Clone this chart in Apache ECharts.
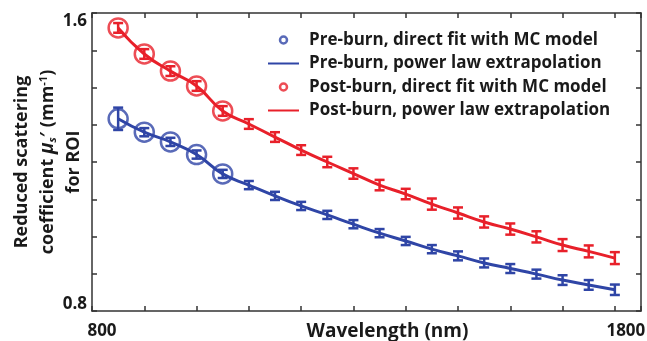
<!DOCTYPE html>
<html>
<head>
<meta charset="utf-8">
<script src="https://cdn.jsdelivr.net/npm/echarts@6/dist/echarts.min.js"></script>
<style>
  html, body { margin: 0; padding: 0; background: #fff; }
  #chart { width: 647px; height: 341px; }
</style>
</head>
<body>
<div id="chart"></div>
<script>
const wavelengths = [850, 900, 950, 1000, 1050, 1100, 1150, 1200, 1250, 1300,
                     1350, 1400, 1450, 1500, 1550, 1600, 1650, 1700, 1750, 1800];
const preBurn  = [1.316, 1.280, 1.254, 1.220, 1.168, 1.138, 1.109, 1.082, 1.058, 1.033,
                  1.009, 0.988, 0.966, 0.948, 0.929, 0.914, 0.899, 0.883, 0.870, 0.857];
const preErr   = [0.030, 0.011, 0.011, 0.011, 0.011, 0.011, 0.011, 0.011, 0.011, 0.011,
                  0.011, 0.011, 0.011, 0.012, 0.012, 0.012, 0.012, 0.013, 0.013, 0.014];
const postBurn = [1.560, 1.490, 1.444, 1.404, 1.337, 1.302, 1.267, 1.232, 1.200, 1.169,
                  1.138, 1.114, 1.087, 1.063, 1.039, 1.020, 0.999, 0.977, 0.960, 0.942];
const postErr  = [0.013, 0.013, 0.013, 0.013, 0.013, 0.013, 0.013, 0.013, 0.014, 0.014,
                  0.014, 0.014, 0.015, 0.015, 0.015, 0.015, 0.015, 0.016, 0.016, 0.016];
// direct MC fits exist only for the first few wavelengths
const mcFitCount = 5;
const xTickLabels = [800, 1800];
const yTickLabels = [0.8, 1.6];

const names = [
  'Pre-burn, direct fit with MC model',
  'Pre-burn, power law extrapolation',
  'Post-burn, direct fit with MC model',
  'Post-burn, power law extrapolation',
];

const BLUE = '#2f45a6';
const RED = '#e8202a';
const AXIS = '#333';
const TEXT = '#1a1a1a';
const FONT = 'Open Sans';

const chart = echarts.init(document.getElementById('chart'));

function errorBars(color) {
  return function (params, api) {
    const x = api.value(0);
    const y = api.value(1);
    const e = api.value(2);
    const top = api.coord([x, y + e]);
    const bot = api.coord([x, y - e]);
    const half = 5;
    const style = { stroke: color, lineWidth: 2.5, fill: null };
    return {
      type: 'group',
      children: [
        { type: 'line', shape: { x1: top[0], y1: top[1], x2: bot[0], y2: bot[1] }, style },
        { type: 'line', shape: { x1: top[0] - half, y1: top[1], x2: top[0] + half, y2: top[1] }, style },
        { type: 'line', shape: { x1: bot[0] - half, y1: bot[1], x2: bot[0] + half, y2: bot[1] }, style },
      ],
    };
  };
}

const pairs = (vals) => wavelengths.map((w, i) => [w, vals[i]]);
const triples = (vals, errs) => wavelengths.map((w, i) => [w, vals[i], errs[i]]);

const frameAxis = {
  axisLine: { show: true, lineStyle: { color: AXIS, width: 1.5 } },
  axisTick: { show: true, inside: true, length: 5, lineStyle: { color: AXIS, width: 1.5 } },
  splitLine: { show: false },
};

const tickFont = { fontFamily: FONT, fontSize: 17, fontWeight: 'bold', color: TEXT };

const option = {
  backgroundColor: '#fff',
  animation: false,
  grid: { left: 92, right: 6, top: 13, bottom: 30, containLabel: false, outerBoundsMode: 'none' },
  legend: {
    orient: 'vertical',
    left: 262,
    top: 26,
    itemWidth: 31,
    itemHeight: 7,
    itemGap: 5.5,
    textStyle: { fontFamily: FONT, fontSize: 17, fontWeight: 'bold', color: TEXT, lineHeight: 18, padding: [0, 0, 0, 5] },
    data: [
      { name: names[0], icon: 'circle', itemStyle: { color: 'rgba(0,0,0,0)', borderColor: BLUE, borderWidth: 2.5 } },
      { name: names[1], itemStyle: { opacity: 0 } },
      { name: names[2], icon: 'circle', itemStyle: { color: 'rgba(0,0,0,0)', borderColor: RED, borderWidth: 2.5 } },
      { name: names[3], itemStyle: { opacity: 0 } },
    ],
  },
  xAxis: [
    {
      type: 'value', min: 800, max: 1850, interval: 100,
      ...frameAxis,
      name: 'Wavelength (nm)',
      nameLocation: 'middle',
      nameGap: 11,
      nameMoveOverlap: false,
      nameTextStyle: { fontFamily: FONT, fontSize: 19, fontWeight: 'bold', color: TEXT, verticalAlign: 'top', padding: [0, 0, 0, 42] },
      axisLabel: {
        margin: 12,
        ...tickFont,
        formatter: (v) => {
          if (v === xTickLabels[0]) return '{first|' + v + '}';
          if (v === xTickLabels[1]) return '{last|' + v + '}';
          return '';
        },
        rich: {
          first: { ...tickFont, padding: [0, 0, 0, 20] },
          last: { ...tickFont, padding: [0, 0, 0, 22] },
        },
      },
    },
    {
      type: 'value', min: 800, max: 1850, interval: 100, position: 'top',
      ...frameAxis,
      axisLabel: { show: false },
    },
  ],
  yAxis: [
    {
      type: 'value', min: 0.8, max: 1.6, interval: 0.1,
      ...frameAxis,
      name: '{t|Reduced scattering}\n{t|coefficient }{mu|μ}{sub|s}{t|′ (mm}{sup|-1}{t|)}\n{t|for ROI}',
      nameLocation: 'middle',
      nameGap: 5,
      nameRotate: 90,
      nameMoveOverlap: false,
      nameTextStyle: {
        fontFamily: FONT, fontSize: 18, fontWeight: 'bold', color: TEXT, lineHeight: 26,
        rich: {
          t: { fontFamily: FONT, fontSize: 18, fontWeight: 'bold', color: TEXT, lineHeight: 26 },
          mu: { fontFamily: FONT, fontSize: 19, fontStyle: 'italic', color: TEXT, lineHeight: 26 },
          sub: { fontFamily: FONT, fontSize: 11, fontStyle: 'italic', color: TEXT, lineHeight: 26, padding: [10, 0, 0, 0] },
          sup: { fontFamily: FONT, fontSize: 11, color: TEXT, lineHeight: 26, padding: [0, 0, 8, 0] },
        },
      },
      axisLabel: {
        margin: 5,
        formatter: (v) => {
          const r = Math.round(v * 10) / 10;
          if (r === yTickLabels[1]) return '{top|' + r.toFixed(1) + '}';
          if (r === yTickLabels[0]) return '{bot|' + r.toFixed(1) + '}';
          return '';
        },
        rich: {
          top: { ...tickFont, padding: [16, 0, 0, 0] },
          bot: { ...tickFont, padding: [0, 0, 14, 0] },
        },
      },
    },
    {
      type: 'value', min: 0.8, max: 1.6, interval: 0.1, position: 'right',
      ...frameAxis,
      axisLabel: { show: false },
    },
  ],
  series: [
    {
      name: names[1], type: 'line', data: pairs(preBurn), smooth: true,
      symbol: 'none', lineStyle: { color: BLUE, width: 3 }, itemStyle: { color: BLUE }, z: 2,
    },
    {
      name: names[3], type: 'line', data: pairs(postBurn), smooth: true,
      symbol: 'none', lineStyle: { color: RED, width: 3 }, itemStyle: { color: RED }, z: 2,
    },
    {
      name: 'preErr', type: 'custom', renderItem: errorBars(BLUE),
      encode: { x: 0, y: 1 }, data: triples(preBurn, preErr), z: 3,
    },
    {
      name: 'postErr', type: 'custom', renderItem: errorBars(RED),
      encode: { x: 0, y: 1 }, data: triples(postBurn, postErr), z: 3,
    },
    {
      name: names[0], type: 'scatter', data: pairs(preBurn).slice(0, mcFitCount),
      symbol: 'circle', symbolSize: 19,
      itemStyle: { color: 'rgba(0,0,0,0)', borderColor: BLUE, borderWidth: 2.5 }, z: 4,
    },
    {
      name: names[2], type: 'scatter', data: pairs(postBurn).slice(0, mcFitCount),
      symbol: 'circle', symbolSize: 19,
      itemStyle: { color: 'rgba(0,0,0,0)', borderColor: RED, borderWidth: 2.5 }, z: 4,
    },
  ],
};

chart.setOption(option);
</script>
</body>
</html>
